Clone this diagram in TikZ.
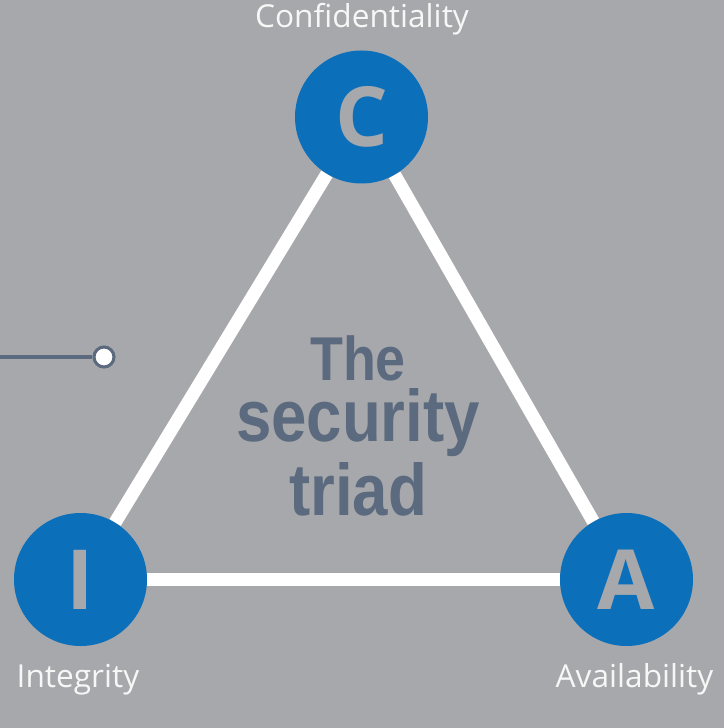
\documentclass[tikz,border=0pt]{standalone}
\usepackage{fontspec}
\setmainfont{Open Sans}
\newfontfamily\triadfont[FakeStretch=0.87]{Liberation Sans Bold}

\definecolor{bggray}{HTML}{A7A8AB}
\definecolor{triblue}{HTML}{0B6FBA}
\definecolor{slate}{HTML}{5B6A7E}
\definecolor{softwhite}{HTML}{F7F7F7}

\begin{document}
\begin{tikzpicture}[
  x=0.025cm, y=-0.025cm,
  corner/.style={circle, fill=triblue, minimum size=133*0.025cm, inner sep=0pt,
    text=bggray, font=\bfseries\fontsize{59}{60}\selectfont},
  lbl/.style={anchor=base, text=softwhite, inner sep=0pt, font=\fontsize{22.5}{24}\selectfont},
  side/.style={draw=white, line width=9.3pt},
  title/.style={align=center, text=slate, inner sep=0pt, font=\triadfont\fontsize{52}{52}\selectfont}
]
% Hintergrund
\useasboundingbox (0,0) rectangle (724,728);
\fill[bggray] (0,0) rectangle (724,728);

% Ecken des Dreiecks
\node[corner] (C) at (361.5,117) {C};
\node[corner] (I) at (80.5,579.5) {I};
\node[corner] (A) at (626.5,579.5) {A};

% Seiten
\foreach \a/\b in {C/I, I/A, A/C} {
  \draw[side] (\a) -- (\b);
}

% Beschriftungen
\node[lbl] (confLabel) at (362,28) {Confidentiality};
\node[lbl] (integLabel) at (78,687) {Integrity};
\node[lbl] (availLabel) at (634.5,687) {Availability};

% Titel in der Mitte
\node[title, anchor=north] (title) at (358,335)
  {{\fontsize{44}{52}\selectfont The}\\[-8.6pt]security\\[0.6pt]triad};

% Zeiger links
\coordinate (pStart) at (0,357);
\node[circle, draw=slate, fill=white, line width=2.2pt, minimum size=20*0.025cm, inner sep=0pt] (pDot) at (104,357) {};
\draw[slate, line width=2.2pt] (pStart) -- (pDot);
\end{tikzpicture}
\end{document}
